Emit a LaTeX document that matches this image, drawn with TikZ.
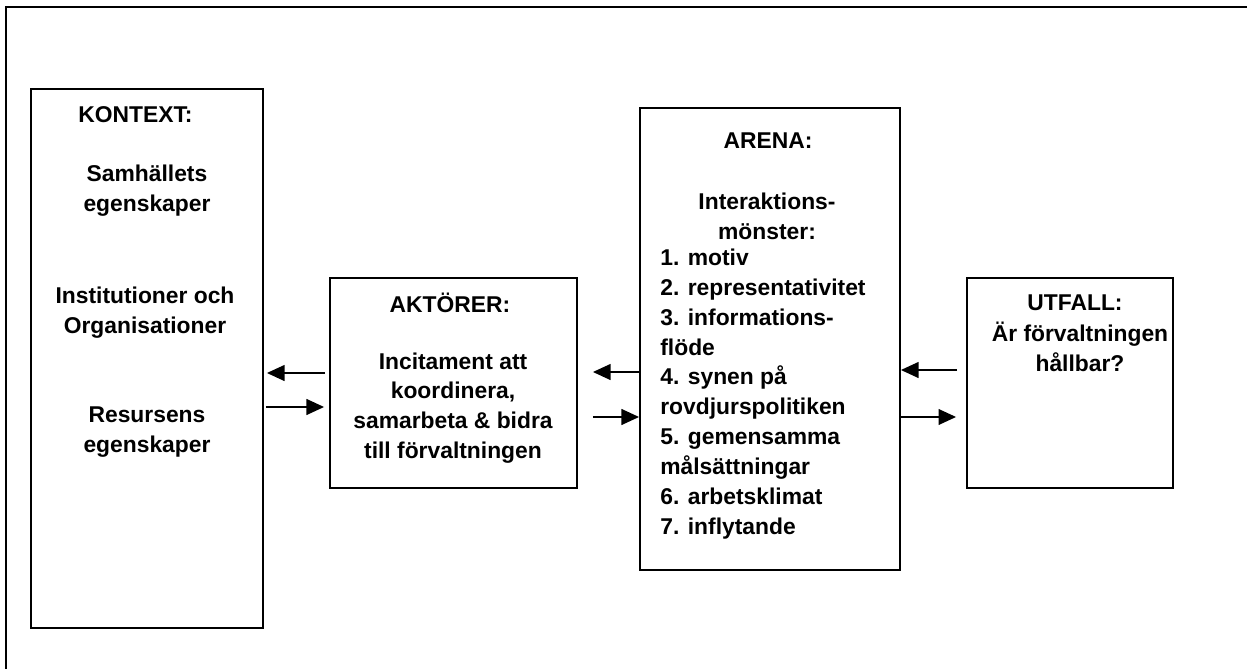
\documentclass[tikz,border=0pt]{standalone}
\usepackage{fontspec}
\setmainfont{Liberation Sans}
\usetikzlibrary{arrows.meta}

\tikzset{
  ruta/.style={draw, line width=1.1pt, inner sep=0pt},
  txt/.style={font=\fontsize{13}{17}\selectfont\bfseries, align=center, inner sep=0pt},
  pil/.style={-{Triangle[length=10pt,width=9pt]}, line width=0.85pt}
}

\begin{document}
\begin{tikzpicture}[x=0.02cm, y=-0.02cm]
  \useasboundingbox (0,0) rectangle (1247,669);
  % ram
  \draw[line width=1.1pt] (6,669) -- (6,7) -- (1247,7);
  % rutor
  \node[ruta, minimum width=4.64cm, minimum height=10.78cm] (kontext) at (147,358.5) {};
  \node[ruta, minimum width=4.94cm, minimum height=4.2cm] (aktorer) at (453.5,383) {};
  \node[ruta, minimum width=5.2cm, minimum height=9.24cm] (arena) at (770,339) {};
  \node[ruta, minimum width=4.12cm, minimum height=4.2cm] (utfall) at (1070,383) {};
  % texter
  \node[txt, anchor=west] (kontextrubrik) at (78,115) {KONTEXT:};
  \node[txt] (samhalle) at (147,191) {Samhällets\\egenskaper};
  \node[txt] (institution) at (145,313) {Institutioner och\\Organisationer};
  \node[txt] (resurs) at (147,432) {Resursens\\egenskaper};
  \node[txt] (aktorrubrik) at (450,303) {AKTÖRER:};
  \node[txt] (incitament) at (453,408) {Incitament att\\koordinera,\\samarbeta \& bidra\\till förvaltningen};
  \node[txt] (arenarubrik) at (768,141) {ARENA:};
  \node[txt] (interaktion) at (767,216) {Interaktions-\\mönster:};
  \node[txt, align=left, anchor=west] (monster) at (660,394) {1. motiv\\2. representativitet\\3. informations-\\flöde\\4. synen på\\rovdjurspolitiken\\5. gemensamma\\målsättningar\\6. arbetsklimat\\7. inflytande};
  \node[txt] (utfallrubrik) at (1075,303) {UTFALL:};
  \node[txt] (fraga) at (1080,347) {Är förvaltningen\\hållbar?};
  % pilar
  \draw[pil, shorten <=0.08cm, shorten >=0.06cm] ([yshift=0.2cm]aktorer.west) -- ([yshift=0.2cm]kontext.east |- aktorer.west);
  \draw[pil, shorten <=0.04cm, shorten >=0.1cm] ([yshift=-0.48cm]kontext.east |- aktorer.west) -- ([yshift=-0.48cm]aktorer.west);
  \draw[pil, shorten >=0.3cm] ([yshift=0.22cm]arena.west |- aktorer.east) -- ([yshift=0.22cm]aktorer.east);
  \draw[pil, shorten <=0.3cm] ([yshift=-0.68cm]aktorer.east) -- ([yshift=-0.68cm]arena.west |- aktorer.east);
  \draw[pil, shorten <=0.18cm] ([yshift=0.26cm]utfall.west) -- ([yshift=0.26cm]arena.east |- utfall.west);
  \draw[pil, shorten >=0.2cm] ([yshift=-0.68cm]arena.east |- utfall.west) -- ([yshift=-0.68cm]utfall.west);
\end{tikzpicture}
\end{document}
